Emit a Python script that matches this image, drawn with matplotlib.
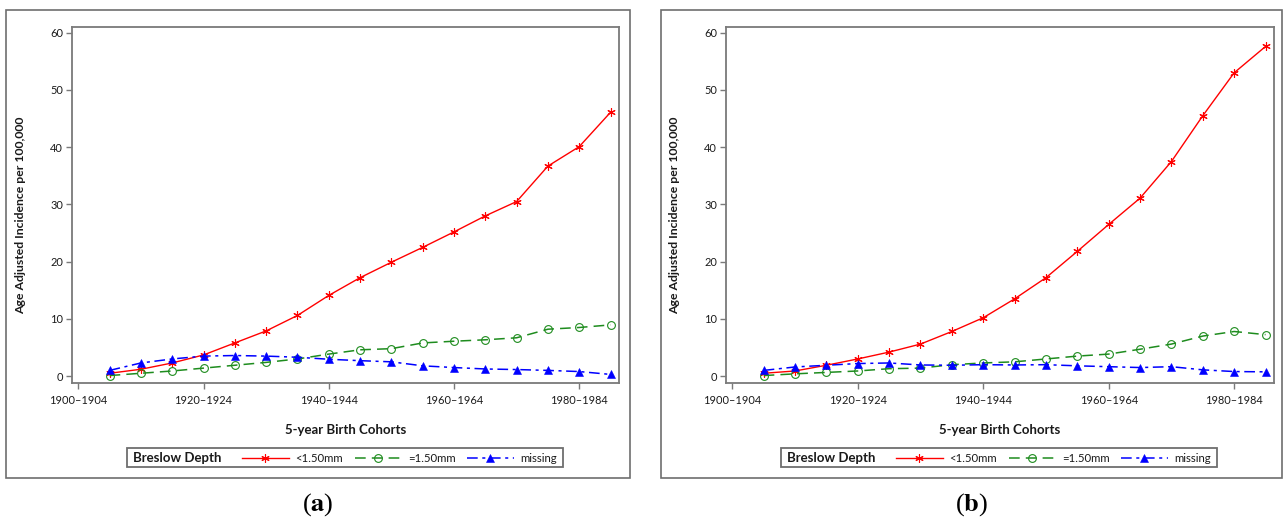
import matplotlib
matplotlib.use("Agg")
import matplotlib.pyplot as plt
from matplotlib.patches import Rectangle

# ---------------- data ----------------
cohorts = ["1900–1904", "1905–1909", "1910–1914", "1915–1919", "1920–1924",
           "1925–1929", "1930–1934", "1935–1939", "1940–1944", "1945–1949",
           "1950–1954", "1955–1959", "1960–1964", "1965–1969", "1970–1974",
           "1975–1979", "1980–1984", "1985–1989"]
tick_cohorts = ["1900–1904", "1920–1924", "1940–1944", "1960–1964", "1980–1984"]
data_cohorts = cohorts[1:]

series_names = ["<1.50mm", "=1.50mm", "missing"]
legend_title = "Breslow Depth"

a_thin = [0.5, 1.2, 2.3, 3.7, 5.8, 7.9, 10.6, 14.1, 17.2, 19.9, 22.5, 25.2,
          28.0, 30.5, 36.7, 40.1, 46.1]
a_thick = [0.1, 0.5, 0.9, 1.4, 1.9, 2.4, 3.0, 3.85, 4.6, 4.8, 5.8, 6.1, 6.35,
           6.7, 8.2, 8.5, 8.95]
a_missing = [1.0, 2.3, 3.0, 3.5, 3.6, 3.5, 3.3, 2.95, 2.7, 2.5, 1.8, 1.5,
             1.25, 1.15, 1.0, 0.8, 0.3]

b_thin = [0.5, 0.9, 1.9, 3.0, 4.2, 5.6, 7.8, 10.2, 13.5, 17.2, 21.8, 26.5,
          31.1, 37.5, 45.5, 53.0, 57.6]
b_thick = [0.1, 0.4, 0.65, 0.9, 1.3, 1.4, 2.0, 2.3, 2.5, 3.0, 3.5, 3.85,
           4.7, 5.6, 7.0, 7.8, 7.25]
b_missing = [1.0, 1.6, 1.9, 2.2, 2.3, 1.95, 1.9, 2.0, 1.95, 2.0, 1.8, 1.65,
             1.5, 1.65, 1.1, 0.8, 0.75]

panel_labels = ["a", "b"]
y_ticks = [0, 10, 20, 30, 40, 50, 60]
x_label = "5-year Birth Cohorts"
y_label = "Age Adjusted Incidence per 100,000"

# ---------------- style ----------------
W, H = 1287, 520
plt.rcParams['font.family'] = ['Lato', 'DejaVu Sans']
plt.rcParams['mathtext.fontset'] = 'stix'
fig = plt.figure(figsize=(W / 100, H / 100), dpi=100)

GRAY = "#7a7a7a"
TXT = "#1a1a1a"
styles = [
    dict(color="#ff0000", linestyle="-", marker=(6, 2, 0), markersize=6,
         markeredgewidth=0.8, linewidth=1.0),
    dict(color="#1e8c1e", linestyle=(0, (7, 4)), marker="o", markersize=5.6,
         markerfacecolor="none", markeredgewidth=0.8, linewidth=1.1),
    dict(color="#0000ff", linestyle=(0, (7, 3, 2, 3)), marker="^", markersize=6,
         markeredgewidth=0.4, linewidth=1.1),
]


def fx(px):
    return px / W


def fy(py):
    return 1 - py / H


def draw_panel(ax_left_px, ax_right_px, frame, series, label):
    top, bottom = 27, 383
    ax = fig.add_axes([fx(ax_left_px), fy(bottom), (ax_right_px - ax_left_px) / W,
                       (bottom - top) / H])
    xs = [cohorts.index(c) for c in data_cohorts]
    handles = []
    for vals, st, name in zip(series, styles, series_names):
        ln, = ax.plot(xs, vals, label=name, **st)
        handles.append(ln)
    ax.set_xlim(-0.2, 17.27)
    ax.set_ylim(-1.2, 61.0)
    ax.set_xticks([cohorts.index(c) for c in tick_cohorts])
    ax.set_xticklabels(tick_cohorts)
    ax.set_yticks(y_ticks)
    ax.tick_params(axis="both", direction="out", color=GRAY, labelcolor=TXT,
                   labelsize=7.9, width=1.0)
    ax.tick_params(axis="x", length=4, pad=4.5)
    ax.tick_params(axis="y", length=4, pad=2.5)
    for s in ax.spines.values():
        s.set_color(GRAY)
        s.set_linewidth(1.3)
    ax.set_xlabel(x_label, fontsize=9.5, fontweight="bold", color=TXT)
    ax.xaxis.set_label_coords(0.5, -0.115)
    ax.set_ylabel(y_label, fontsize=8.8, fontweight="bold", color=TXT)
    ax.yaxis.set_label_coords(-0.084, 0.47)

    # outer frame
    fl, fr, ft, fb = frame
    fig.add_artist(Rectangle((fx(fl), fy(fb)), (fr - fl) / W, (fb - ft) / H,
                             transform=fig.transFigure, fill=False,
                             edgecolor="#6e6e6e", linewidth=1.2))
    # legend box
    lg_l = ax_left_px + 55
    lg_r = lg_l + 436
    lg_t, lg_b = 448, 467
    fig.add_artist(Rectangle((fx(lg_l), fy(lg_b)), (lg_r - lg_l) / W, (lg_b - lg_t) / H,
                             transform=fig.transFigure, fill=False,
                             edgecolor="#6e6e6e", linewidth=1.3))
    fig.text(fx(lg_l + 6), fy((lg_t + lg_b) / 2), legend_title, fontsize=9.5,
             fontweight="bold", color=TXT, ha="left", va="center")
    fig.legend(handles, series_names, ncol=3, loc="center left",
               bbox_to_anchor=(fx(lg_l + 115), fy((lg_t + lg_b) / 2 + 0.5)),
               frameon=False, fontsize=8.2, handlelength=4.1, handletextpad=0.6,
               columnspacing=1.0, borderpad=0, borderaxespad=0, labelcolor=TXT)
    # panel label
    cx = (fl + fr) / 2
    fig.text(fx(cx), fy(505), "(" + r"$\mathbf{" + label + "}$" + ")", fontsize=19,
             family="Liberation Serif", ha="center", va="center", color="black")
    return ax


draw_panel(72, 619, (6, 630, 10, 478), [a_thin, a_thick, a_missing], panel_labels[0])
draw_panel(726, 1274, (661, 1282, 10, 478), [b_thin, b_thick, b_missing], panel_labels[1])

fig.savefig("out.png", dpi=100)
